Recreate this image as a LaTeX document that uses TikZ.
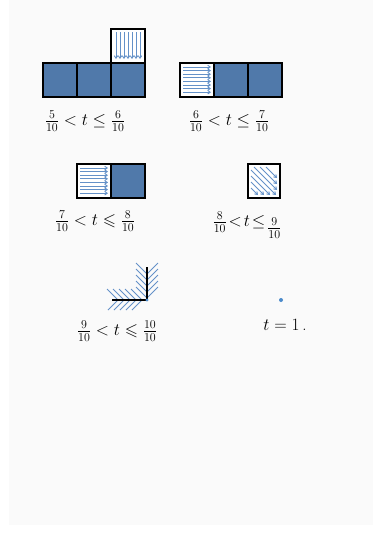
\documentclass[tikz,border=0pt]{standalone}
\usepackage{amsmath}
\usepackage{amssymb}
\usepackage{tikz}
\usetikzlibrary{arrows.meta,positioning}
\definecolor{cellblue}{RGB}{80,121,170}
\definecolor{hatchblue}{RGB}{100,145,200}
\definecolor{dotblue}{RGB}{76,139,203}
\definecolor{pagegray}{RGB}{250,250,250}
\tikzset{
  cellfill/.style  ={draw,line width=1.6pt,fill=cellblue,minimum size=34pt,inner sep=0pt,outer sep=0pt},
  cellwhite/.style ={draw,line width=1.6pt,fill=white,minimum size=34pt,inner sep=0pt,outer sep=0pt},
  hatch/.style     ={hatchblue,line width=0.9pt,-{Straight Barb[length=2.5pt,width=3.5pt]}},
  feather/.style   ={hatchblue,line width=0.9pt},
  edge/.style      ={line width=1.6pt,black},
  tlabel/.style    ={font=\fontsize{17}{19}\selectfont,inner sep=0pt},
}
\begin{document}
\begin{tikzpicture}[x=1pt,y=-1pt,node distance=0pt]
\useasboundingbox (0,0) rectangle (382,533);
\fill[pagegray] (9,0) rectangle (373,525);
% Panel 1 -- three cells and one on top
\node[cellfill] (p1a) at (60,80) {};
\node[cellfill,right=of p1a] (p1b) {};
\node[cellfill,right=of p1b] (p1c) {};
\node[cellwhite,above=of p1c] (p1d) {};
\foreach \i in {0,...,6}
  \draw[hatch] ([xshift=5pt+4*\i pt,yshift=-3pt]p1d.north west) -- ([xshift=5pt+4*\i pt,yshift=4pt]p1d.south west);
\node[tlabel] (lab1) at (85,121) {$\tfrac{5}{10}<t\leq\tfrac{6}{10}$};
% Panel 2
\node[cellwhite] (p2a) at (197,80) {};
\node[cellfill,right=of p2a] (p2b) {};
\node[cellfill,right=of p2b] (p2c) {};
\foreach \i in {0,...,7}
  \draw[hatch] ([xshift=3pt,yshift=-4pt-3.6*\i pt]p2a.north west) -- ([xshift=-3pt,yshift=-4pt-3.6*\i pt]p2a.north east);
\node[tlabel] (lab2) at (229,121) {$\tfrac{6}{10}<t\leq\tfrac{7}{10}$};
% Panel 3
\node[cellwhite] (p3a) at (94,181) {};
\node[cellfill,right=of p3a] (p3b) {};
\foreach \i in {0,...,7}
  \draw[hatch] ([xshift=3pt,yshift=-4pt-3.6*\i pt]p3a.north west) -- ([xshift=-3pt,yshift=-4pt-3.6*\i pt]p3a.north east);
\node[tlabel] (lab3) at (95,221) {$\tfrac{7}{10}<t\leqslant\tfrac{8}{10}$};
% Panel 4 -- diagonal flow
\node[cellwhite,minimum width=32pt] (p4a) at (264,181) {};
\foreach \a/\b/\c/\d in {266/167/277/178,260/167/277/184,254/167/277/190,251/170/276/195,251/176/270/195,251/182/264/195,251/188/258/195}
  \draw[hatch] (\a,\b) -- (\c,\d);
\node[tlabel] (lab4) at (247,225) {$\tfrac{8}{10}\!<\!t\!\leq\!\raisebox{-6pt}{$\tfrac{9}{10}$}$};
% Panel 5 -- corner with feathers
\coordinate (c5) at (147,300);
\coordinate (h5) at (112,300);
\coordinate (v5) at (147,267);
\foreach \x in {118,124,130,136,142} {
  \draw[feather] (\x-11,289) -- (\x,300) -- (\x-10,310);
}
\foreach \y in {274,280,286,292,298} {
  \draw[feather] (136,\y-11) -- (147,\y) -- (158,\y-11);
}
\draw[edge] (h5) -- (c5) -- (v5);
\fill[dotblue] (c5) circle (1.6);
\node[tlabel] (lab5) at (117,331) {$\tfrac{9}{10}<t\leqslant\tfrac{10}{10}$};
% Panel 6 -- final point
\coordinate (c6) at (281,300);
\fill[dotblue] (c6) circle (2);
\node[tlabel] (lab6) at (285,325) {$t=1$\,.};
\end{tikzpicture}
\end{document}
